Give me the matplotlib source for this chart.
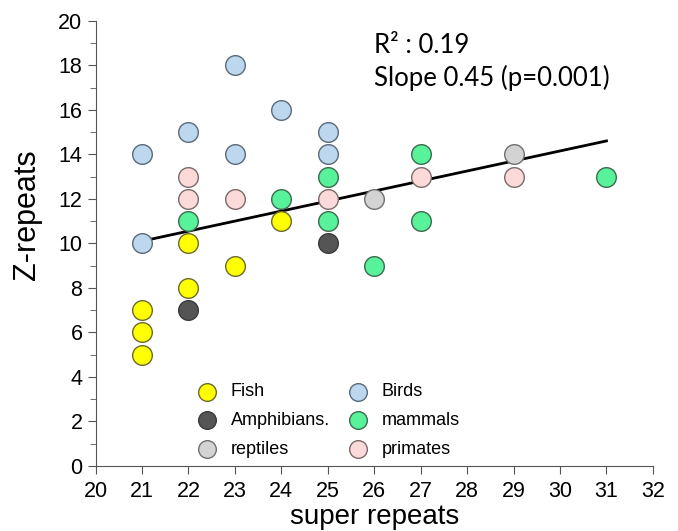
import numpy as np
import matplotlib.pyplot as plt
from matplotlib.ticker import MultipleLocator

# super repeats (x) and Z-repeats (y) per group
fish_x = [21, 21, 21, 22, 22, 23, 24]
fish_y = [5, 6, 7, 8, 10, 9, 11]
amph_x = [22, 25]
amph_y = [7, 10]
rept_x = [26, 29]
rept_y = [12, 14]
bird_x = [21, 21, 22, 23, 23, 24, 25, 25]
bird_y = [14, 10, 15, 18, 14, 16, 15, 14]
mamm_x = [22, 24, 25, 25, 26, 27, 27, 31]
mamm_y = [11, 12, 13, 11, 9, 14, 11, 13]
prim_x = [22, 22, 23, 25, 27, 29]
prim_y = [13, 12, 12, 12, 13, 13]

slope = 0.45
intercept = 0.65
fit_x = [21, 31]

plt.rcParams['font.family'] = ['Liberation Sans', 'DejaVu Sans']

fig = plt.figure(figsize=(6.78, 5.31), dpi=100)
ax = fig.add_axes([0.141, 0.1224, 0.822, 0.8386])

groups = [
    (fish_x, fish_y, '#FFFF00', '#6b6b30', 'Fish'),
    (amph_x, amph_y, '#555555', '#3a3a3a', 'Amphibians.'),
    (rept_x, rept_y, '#D3D3D3', '#707070', 'reptiles'),
    (bird_x, bird_y, '#BDD7EE', '#5a6a7a', 'Birds'),
    (mamm_x, mamm_y, '#57F29A', '#3d6b50', 'mammals'),
    (prim_x, prim_y, '#FCDADA', '#7a6a6a', 'primates'),
]

xs = np.array(fit_x)
ax.plot(xs, slope * xs + intercept, color='black', lw=2, zorder=2)

for x, y, fc, ec, lab in groups:
    ax.scatter(x, y, s=200, color=fc, edgecolors=ec, linewidths=1, label=lab, zorder=3)

ax.set_xlim(20, 32)
ax.set_ylim(0, 20)
ax.xaxis.set_major_locator(MultipleLocator(1))
ax.yaxis.set_major_locator(MultipleLocator(2))
ax.yaxis.set_minor_locator(MultipleLocator(1))
for s in ['top', 'right']:
    ax.spines[s].set_visible(False)
for s in ['left', 'bottom']:
    ax.spines[s].set_color('#555555')
ax.tick_params(which='both', direction='out', color='#555555', labelsize=15.5)
ax.tick_params(which='major', length=6)
ax.tick_params(which='minor', length=4)
ax.tick_params(axis='x', pad=5)

ax.set_xlabel('super repeats', fontsize=20)
ax.xaxis.set_label_coords(0.5, -0.086)
ax.set_ylabel('Z-repeats', fontsize=22)
ax.yaxis.set_label_coords(-0.096, 0.564)

ax.text(0.50, 0.945, 'R² : 0.19', transform=ax.transAxes, fontsize=18.5,
        family='Lato', va='center')
ax.text(0.50, 0.872, 'Slope 0.45 (p=0.001)', transform=ax.transAxes, fontsize=18.5,
        family='Lato', va='center')

ax.legend(ncol=2, loc='upper left', bbox_to_anchor=(0.139, 0.222), frameon=False,
          fontsize=13, handletextpad=0.3, columnspacing=0.58,
          labelspacing=0.64, markerscale=0.9)

fig.savefig('out.png', dpi=100)
